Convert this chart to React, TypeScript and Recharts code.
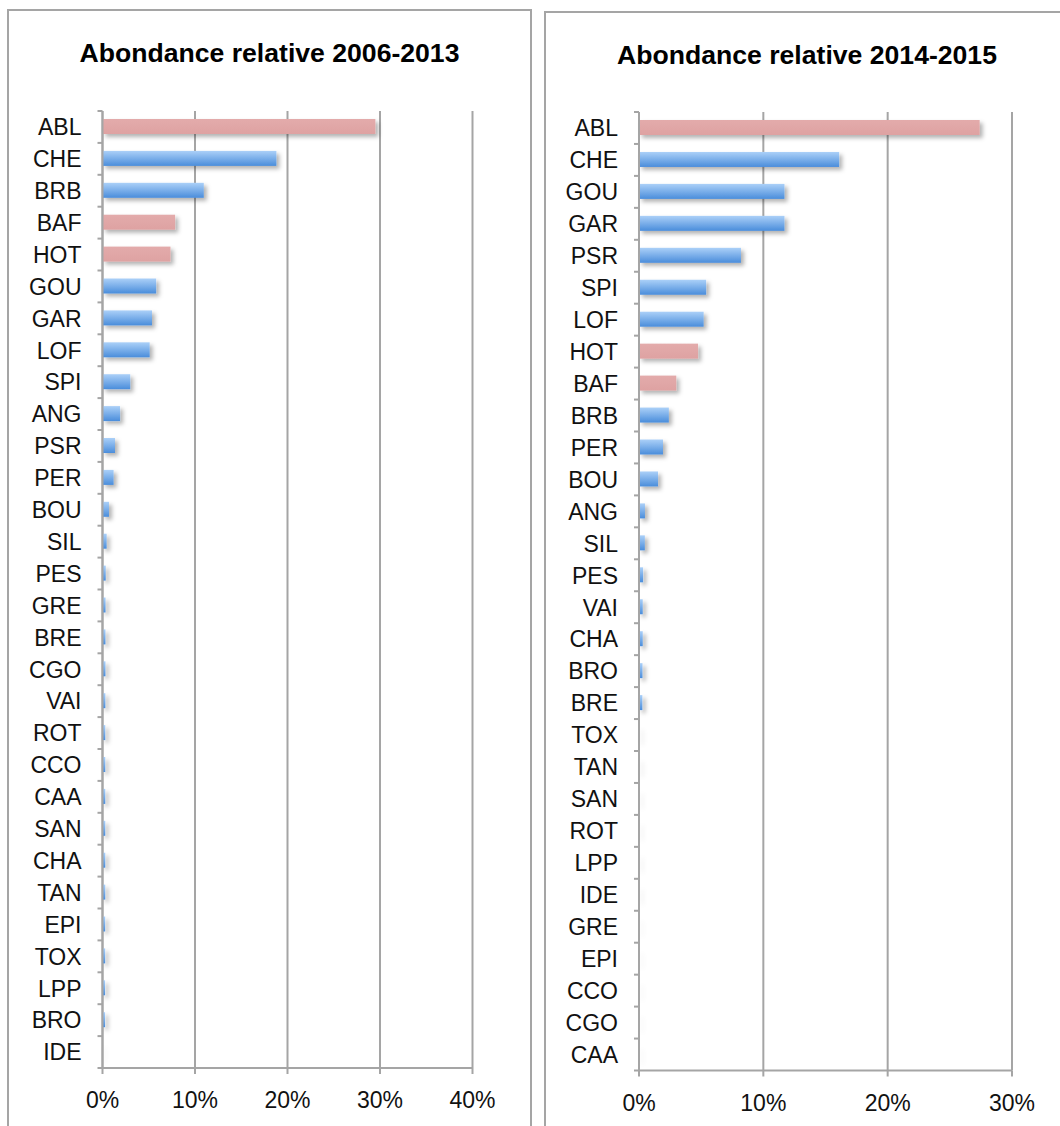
import React from 'react';
import { BarChart, Bar, XAxis, YAxis, CartesianGrid, Cell } from 'recharts';

const leftSpecies = ['ABL', 'CHE', 'BRB', 'BAF', 'HOT', 'GOU', 'GAR', 'LOF', 'SPI', 'ANG', 'PSR', 'PER', 'BOU', 'SIL', 'PES', 'GRE', 'BRE', 'CGO', 'VAI', 'ROT', 'CCO', 'CAA', 'SAN', 'CHA', 'TAN', 'EPI', 'TOX', 'LPP', 'BRO', 'IDE'];
const leftValues = [29.5, 18.8, 10.95, 7.85, 7.35, 5.8, 5.35, 5.1, 3.0, 1.9, 1.35, 1.2, 0.7, 0.45, 0.35, 0.33, 0.32, 0.32, 0.31, 0.3, 0.3, 0.3, 0.3, 0.3, 0.3, 0.29, 0.29, 0.28, 0.28, 0.03];
const leftTicks = [0, 10, 20, 30, 40];

const rightSpecies = ['ABL', 'CHE', 'GOU', 'GAR', 'PSR', 'SPI', 'LOF', 'HOT', 'BAF', 'BRB', 'PER', 'BOU', 'ANG', 'SIL', 'PES', 'VAI', 'CHA', 'BRO', 'BRE', 'TOX', 'TAN', 'SAN', 'ROT', 'LPP', 'IDE', 'GRE', 'EPI', 'CCO', 'CGO', 'CAA'];
const rightValues = [27.4, 16.1, 11.7, 11.7, 8.2, 5.4, 5.2, 4.75, 3.0, 2.4, 1.93, 1.53, 0.48, 0.47, 0.33, 0.3, 0.3, 0.28, 0.27, 0.04, 0.04, 0.03, 0.03, 0.03, 0.03, 0.02, 0.02, 0.02, 0.02, 0.02];
const rightTicks = [0, 10, 20, 30];

// species drawn in pink
const pinkSpecies = ['ABL', 'BAF', 'HOT'];

const GRID = '#a5a5a5';
const FONT = '"Liberation Sans", Arial, sans-serif';

const CategoryTick = (props: any) => {
  const { x, y, payload, index, visibleTicksCount } = props;
  const axisX = x + 5 + 16;
  const half = payload.offset ?? 16;
  return (
    <g>
      <line x1={axisX - 5} x2={axisX} y1={y - half} y2={y - half} stroke={GRID} strokeWidth={2} />
      {index === visibleTicksCount - 1 && (
        <line x1={axisX - 5} x2={axisX} y1={y + half} y2={y + half} stroke={GRID} strokeWidth={2} />
      )}
      <text x={x} y={y} dy="0.36em" textAnchor="end" fontSize={23} fontFamily={FONT} fill="#111">
        {payload.value}
      </text>
    </g>
  );
};

const BarShape = (props: any) => {
  const { x, y, width, height, fill } = props;
  if (!width || width <= 0) return null;
  return <rect x={x} y={y} width={width} height={height} fill={fill} filter="url(#barShadow)" />;
};

interface PanelProps {
  id: string;
  species: string[];
  values: number[];
  ticks: number[];
  width: number;
  height: number;
  margin: { top: number; right: number; bottom: number; left: number };
  yWidth: number;
  xHeight: number;
}

const AbundanceChart: React.FC<PanelProps> = ({ id, species, values, ticks, width, height, margin, yWidth, xHeight }) => {
  const data = species.map((s, i) => ({ species: s, value: values[i] }));
  return (
    <BarChart width={width} height={height} data={data} layout="vertical" margin={margin} barSize={15}>
      <defs>
        <linearGradient id={`blue-${id}`} x1="0" y1="0" x2="0" y2="1">
          <stop offset="0%" stopColor="#abd0f8" />
          <stop offset="100%" stopColor="#4a8ddb" />
        </linearGradient>
        <linearGradient id={`pink-${id}`} x1="0" y1="0" x2="0" y2="1">
          <stop offset="0%" stopColor="#e3abab" />
          <stop offset="100%" stopColor="#dea2a2" />
        </linearGradient>
        <filter id="barShadow" filterUnits="userSpaceOnUse" x="0" y="0" width="1200" height="1200">
          <feDropShadow dx="3" dy="3" stdDeviation="2" floodColor="#000" floodOpacity="0.3" />
        </filter>
      </defs>
      <CartesianGrid horizontal={false} stroke={GRID} strokeWidth={2} strokeDasharray="" />
      <XAxis
        type="number"
        domain={[ticks[0], ticks[ticks.length - 1]]}
        ticks={ticks}
        tickFormatter={(v: number) => `${v}%`}
        height={xHeight}
        axisLine={{ stroke: GRID, strokeWidth: 2 }}
        tickLine={{ stroke: GRID, strokeWidth: 2 }}
        tickSize={6}
        tickMargin={18}
        tick={{ fontSize: 23, fontFamily: FONT, fill: '#111' }}
        interval={0}
      />
      <YAxis
        type="category"
        dataKey="species"
        width={yWidth}
        axisLine={{ stroke: GRID, strokeWidth: 2 }}
        tickLine={false}
        tickSize={5}
        tickMargin={16}
        tick={<CategoryTick />}
        interval={0}
      />
      <Bar dataKey="value" isAnimationActive={false} shape={<BarShape />}>
        {data.map((d) => (
          <Cell key={d.species} fill={pinkSpecies.includes(d.species) ? `url(#pink-${id})` : `url(#blue-${id})`} />
        ))}
      </Bar>
    </BarChart>
  );
};

const titleStyle: React.CSSProperties = {
  position: 'absolute',
  width: '100%',
  textAlign: 'center',
  fontFamily: FONT,
  fontWeight: 'bold',
  fontSize: 26.6,
  lineHeight: '30px',
  color: '#000',
};

const App: React.FC = () => {
  return (
    <div style={{ position: 'relative', width: 1060, height: 1126, overflow: 'hidden', background: '#fff' }}>
      <style>{'body{margin:0}'}</style>
      <div style={{ position: 'absolute', left: 7, top: 9, width: 525, height: 1200, border: `2px solid ${GRID}`, boxSizing: 'border-box' }} />
      <div style={{ position: 'absolute', left: 544, top: 11, width: 540, height: 1200, border: `2px solid ${GRID}`, boxSizing: 'border-box' }} />
      <div style={{ ...titleStyle, left: 7, width: 525, top: 38 }}>Abondance relative 2006-2013</div>
      <div style={{ ...titleStyle, left: 544, width: 526, top: 39.5 }}>Abondance relative 2014-2015</div>
      <div style={{ position: 'absolute', left: 0, top: 0 }}>
        <AbundanceChart
          id="a"
          species={leftSpecies}
          values={leftValues}
          ticks={leftTicks}
          width={530}
          height={1126}
          margin={{ top: 111, right: 57.5, bottom: 0, left: 0 }}
          yWidth={102.5}
          xHeight={58}
        />
      </div>
      <div style={{ position: 'absolute', left: 530, top: 0 }}>
        <AbundanceChart
          id="b"
          species={rightSpecies}
          values={rightValues}
          ticks={rightTicks}
          width={530}
          height={1126}
          margin={{ top: 112, right: 48, bottom: 0, left: 0 }}
          yWidth={109}
          xHeight={55.5}
        />
      </div>
    </div>
  );
};

export default App;
